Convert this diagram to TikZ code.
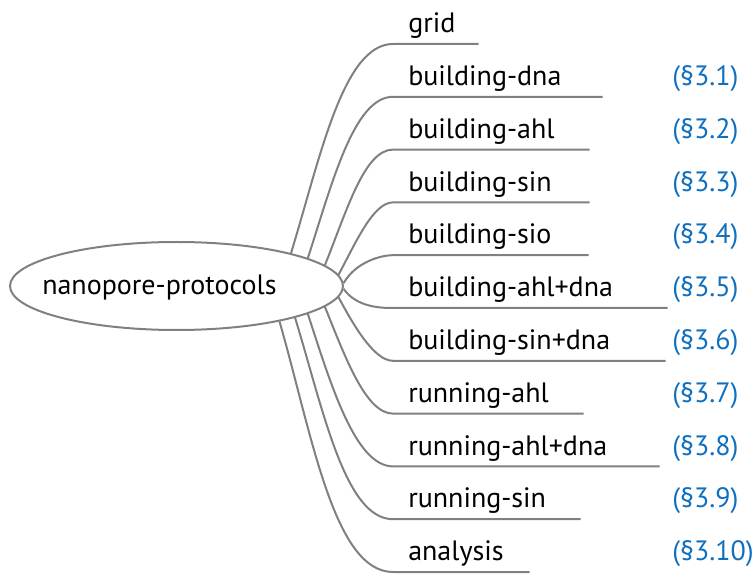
\documentclass[tikz,border=0pt]{standalone}
\usepackage{fontspec}
\setmainfont{PT Sans}
\usetikzlibrary{shapes.geometric}

\definecolor{linegray}{RGB}{128,128,128}
\definecolor{refblue}{RGB}{16,112,192}

\tikzset{
    root/.style={ellipse,draw=linegray,line width=1.5pt,minimum width=249.75pt,minimum height=66pt,inner sep=0},
    topic/.style={anchor=south west,inner xsep=11.25pt,inner ysep=8.25pt,text depth=0pt,text width=#1,align=left},
    branch/.style={draw=linegray,line width=1.5pt,in=180,in looseness=0.55,out looseness=1.1},
    ref/.style={anchor=base west,inner sep=0,text=refblue}
}

\begin{document}
\begin{tikzpicture}[x=0.75pt,y=0.75pt]
    \providecommand{\topicfontsize}{\fontsize{21pt}{25pt}\selectfont}
    \useasboundingbox (0,0) rectangle (752,575);
    \node[root] (root) at (176.5,289) {};
    \node[anchor=base west,inner sep=0,font=\topicfontsize] (rootlabel) at (42,280) {nanopore-protocols};
    \coordinate (refcol) at (672,0);
    % topics, top to bottom
    \node[topic=41.25pt,font=\topicfontsize] (grid) at (393,531) {grid};
    \node[topic=134.25pt,font=\topicfontsize] (bdna) at (393,478.2) {building-dna};
    \node[topic=124.5pt,font=\topicfontsize] (bahl) at (393,425.4) {building-ahl};
    \node[topic=124.5pt,font=\topicfontsize] (bsin) at (393,372.6) {building-sin};
    \node[topic=123.75pt,font=\topicfontsize] (bsio) at (393,319.8) {building-sio};
    \node[topic=183pt,font=\topicfontsize] (bahldna) at (393,267) {building-ahl+dna};
    \node[topic=181.5pt,font=\topicfontsize] (bsindna) at (393,214.2) {building-sin+dna};
    \node[topic=120pt,font=\topicfontsize] (rahl) at (393,161.4) {running-ahl};
    \node[topic=177pt,font=\topicfontsize] (rahldna) at (393,108.6) {running-ahl+dna};
    \node[topic=117.75pt,font=\topicfontsize] (rsin) at (393,55.8) {running-sin};
    \node[topic=79.5pt,font=\topicfontsize] (analysis) at (393,3) {analysis};
    % section references
    \node[ref,font=\topicfontsize] (refbdna) at (bdna.base -| refcol) {(§3.1)};
    \node[ref,font=\topicfontsize] (refbahl) at (bahl.base -| refcol) {(§3.2)};
    \node[ref,font=\topicfontsize] (refbsin) at (bsin.base -| refcol) {(§3.3)};
    \node[ref,font=\topicfontsize] (refbsio) at (bsio.base -| refcol) {(§3.4)};
    \node[ref,font=\topicfontsize] (refbahldna) at (bahldna.base -| refcol) {(§3.5)};
    \node[ref,font=\topicfontsize] (refbsindna) at (bsindna.base -| refcol) {(§3.6)};
    \node[ref,font=\topicfontsize] (refrahl) at (rahl.base -| refcol) {(§3.7)};
    \node[ref,font=\topicfontsize] (refrahldna) at (rahldna.base -| refcol) {(§3.8)};
    \node[ref,font=\topicfontsize] (refrsin) at (rsin.base -| refcol) {(§3.9)};
    \node[ref,font=\topicfontsize] (refanalysis) at (analysis.base -| refcol) {(§3.10)};
    % branches
    \draw[branch,out=73] (root.16.1) to (grid.south west) -- (grid.south east);
    \draw[branch,out=72] (root.12.8) to (bdna.south west) -- (bdna.south east);
    \draw[branch,out=68] (root.8.8) to (bahl.south west) -- (bahl.south east);
    \draw[branch,out=62] (root.4.9) to (bsin.south west) -- (bsin.south east);
    \draw[branch,out=60] (root.1.5) to (bsio.south west) -- (bsio.south east);
    \draw[branch,out=-55] (root.-1.5) to (bahldna.south west) -- (bahldna.south east);
    \draw[branch,out=-62] (root.-4.9) to (bsindna.south west) -- (bsindna.south east);
    \draw[branch,out=-68] (root.-8.8) to (rahl.south west) -- (rahl.south east);
    \draw[branch,out=-72] (root.-12.3) to (rahldna.south west) -- (rahldna.south east);
    \draw[branch,out=-73] (root.-15.3) to (rsin.south west) -- (rsin.south east);
    \draw[branch,out=-74] (root.-19) to (analysis.south west) -- (analysis.south east);
\end{tikzpicture}
\end{document}
